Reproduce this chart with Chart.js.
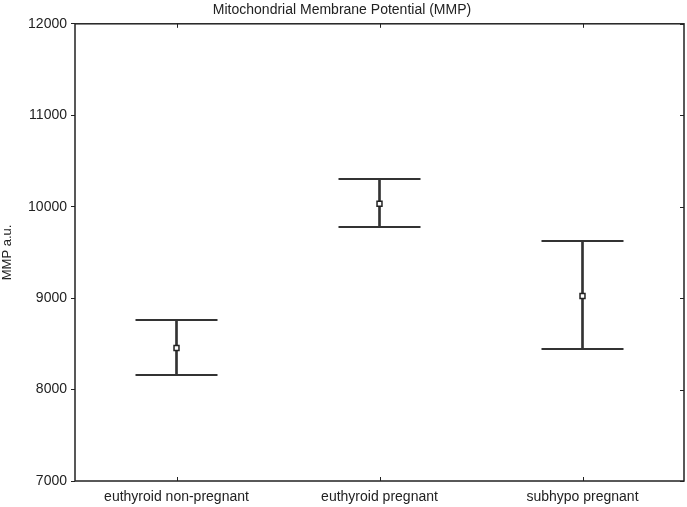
<!DOCTYPE html>
<html>
<head>
<meta charset="utf-8">
<script src="https://cdn.jsdelivr.net/npm/chart.js@4"></script>
<style>
  html, body { margin: 0; padding: 0; background: #fff; }
  #wrap { width: 687px; height: 507px; }
</style>
</head>
<body>
<div id="wrap"><canvas id="mmp-chart" width="687" height="507"></canvas></div>
<script>
const groups = ["euthyroid non-pregnant", "euthyroid pregnant", "subhypo pregnant"];
const means = [8455, 10031, 9024];
const upper = [8761, 10304, 9626];
const lower = [8160, 9779, 8444];
const yTicks = [7000, 8000, 9000, 10000, 11000, 12000];

const ink = "#222";
const font = "Arial, 'Liberation Sans', sans-serif";

// frame around the plot, plus the small inner ticks on top/bottom/right
const frameBox = {
  id: "frameBox",
  afterDraw(chart) {
    const { ctx, chartArea: a, scales } = chart;
    ctx.save();
    ctx.strokeStyle = ink;
    ctx.lineWidth = 1.5;
    ctx.strokeRect(a.left, a.top, a.right - a.left, a.bottom - a.top);
    ctx.lineWidth = 1;
    ctx.beginPath();
    groups.forEach((g, i) => {
      const x = Math.round(scales.x.getPixelForValue(i)) + 0.5;
      ctx.moveTo(x, a.top); ctx.lineTo(x, a.top + 4);
      ctx.moveTo(x, a.bottom); ctx.lineTo(x, a.bottom - 4);
    });
    yTicks.forEach(v => {
      const y = Math.round(scales.y.getPixelForValue(v)) + 0.5;
      ctx.moveTo(a.right, y); ctx.lineTo(a.right - 4, y);
    });
    ctx.stroke();
    ctx.restore();
  }
};

new Chart(document.getElementById("mmp-chart"), {
  data: {
    labels: groups,
    datasets: [
      {
        type: "bar",
        label: "range",
        data: lower.map((l, i) => [l, upper[i]]),
        backgroundColor: "#333",
        barThickness: 2,
        order: 3
      },
      {
        type: "line",
        label: "upper",
        data: upper,
        showLine: false,
        pointStyle: "line",
        pointRadius: 41,
        pointHoverRadius: 41,
        borderColor: "#333",
        pointBorderWidth: 2,
        order: 2
      },
      {
        type: "line",
        label: "lower",
        data: lower,
        showLine: false,
        pointStyle: "line",
        pointRadius: 41,
        pointHoverRadius: 41,
        borderColor: "#333",
        pointBorderWidth: 2,
        order: 2
      },
      {
        type: "line",
        label: "mean",
        data: means,
        showLine: false,
        pointStyle: "rect",
        pointRadius: 3.5,
        pointBackgroundColor: "#fff",
        pointBorderColor: "#222",
        pointBorderWidth: 1.5,
        order: 1
      }
    ]
  },
  options: {
    responsive: false,
    animation: false,
    layout: { autoPadding: false, padding: { top: 0, right: 3, bottom: 0, left: 0 } },
    scales: {
      x: {
        offset: true,
        grid: { display: false },
        border: { display: false },
        ticks: { color: ink, font: { family: font, size: 14 }, padding: 0 },
        afterFit(scale) { scale.height = 26; }
      },
      y: {
        min: 7000,
        max: 12000,
        afterBuildTicks(scale) { scale.ticks = yTicks.map(v => ({ value: v })); },
        grid: { drawOnChartArea: false, tickLength: 4, color: ink },
        border: { display: false },
        ticks: {
          color: ink,
          font: { family: font, size: 14 },
          padding: 4,
          callback: v => String(v)
        },
        title: { display: true, text: "MMP a.u.", color: ink, font: { family: font, size: 13 }, padding: 0 },
        afterFit(scale) { scale.width = 75; }
      }
    },
    plugins: {
      legend: { display: false },
      tooltip: { enabled: false },
      title: {
        display: true,
        text: "Mitochondrial Membrane Potential (MMP)",
        color: ink,
        font: { family: font, size: 14, weight: "normal" },
        padding: { top: 2, bottom: 5 }
      }
    }
  },
  plugins: [frameBox]
});
</script>
</body>
</html>
